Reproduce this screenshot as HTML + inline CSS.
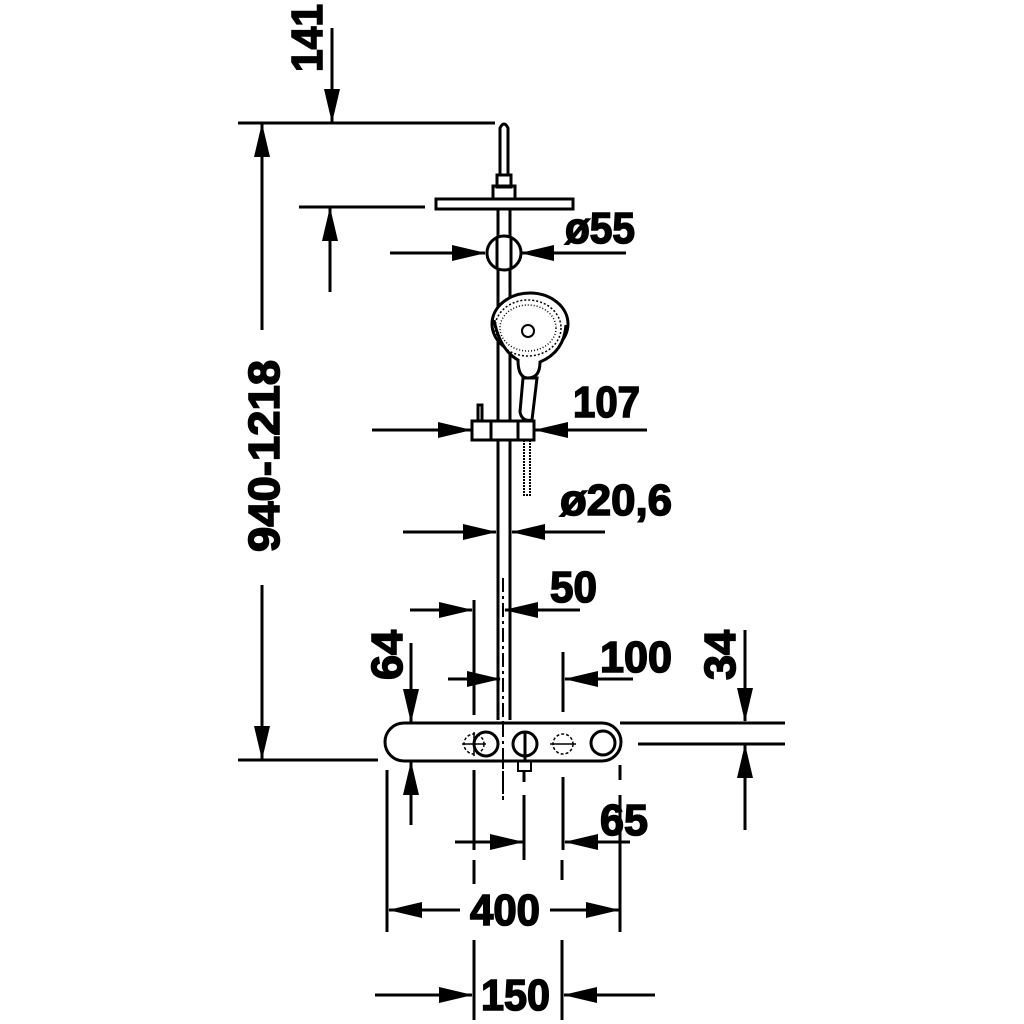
<!DOCTYPE html>
<html><head><style>
html,body{margin:0;padding:0;background:#fff;}
svg{display:block;}
text{font-family:"Liberation Sans Narrow","Liberation Sans",sans-serif;font-weight:bold;font-size:44px;fill:#000;stroke:#000;stroke-width:1.6px;}
</style></head><body>
<svg width="1024" height="1024" viewBox="0 0 1024 1024" xmlns="http://www.w3.org/2000/svg">
<defs>
<marker id="a" markerWidth="34" markerHeight="16" refX="33" refY="8" orient="auto" markerUnits="userSpaceOnUse">
<path d="M0,0 L34,8 L0,16 Z" fill="#000"/>
</marker>
</defs>
<g stroke="#000" stroke-width="3" fill="none">
<line x1="332" y1="28" x2="332" y2="122" marker-end="url(#a)"/>
<line x1="238" y1="123" x2="495" y2="123"/>
<line x1="299" y1="207" x2="425" y2="207"/>
<line x1="330" y1="292" x2="330" y2="208" marker-end="url(#a)"/>
<line x1="262" y1="330" x2="262" y2="124" marker-end="url(#a)"/>
<line x1="262" y1="585" x2="262" y2="759" marker-end="url(#a)"/>
<line x1="238" y1="760" x2="378" y2="760"/>
<line x1="390" y1="253" x2="485" y2="253" marker-end="url(#a)"/>
<line x1="626" y1="253" x2="521" y2="253" marker-end="url(#a)"/>
<line x1="372" y1="430" x2="471" y2="430" marker-end="url(#a)"/>
<line x1="647" y1="430" x2="535" y2="430" marker-end="url(#a)"/>
<line x1="403" y1="532" x2="496" y2="532" marker-end="url(#a)"/>
<line x1="605" y1="532" x2="512" y2="532" marker-end="url(#a)"/>
<line x1="410" y1="610" x2="472" y2="610" marker-end="url(#a)"/>
<line x1="580" y1="610" x2="505" y2="610" marker-end="url(#a)"/>
<line x1="474" y1="600" x2="474" y2="715"/>
<line x1="474" y1="770" x2="474" y2="850"/>
<line x1="503" y1="578" x2="503" y2="800" stroke-dasharray="14,4,3,4" stroke-width="2"/>
<line x1="448" y1="679" x2="500" y2="679" marker-end="url(#a)"/>
<line x1="633" y1="679" x2="565" y2="679" marker-end="url(#a)"/>
<line x1="563" y1="652" x2="563" y2="712"/>
<line x1="563" y1="777" x2="563" y2="850"/>
<line x1="411" y1="643" x2="411" y2="722" marker-end="url(#a)"/>
<line x1="411" y1="825" x2="411" y2="762" marker-end="url(#a)"/>
<line x1="745" y1="630" x2="745" y2="721" marker-end="url(#a)"/>
<line x1="745" y1="830" x2="745" y2="745" marker-end="url(#a)"/>
<line x1="620" y1="723" x2="785" y2="723"/>
<line x1="638" y1="744" x2="785" y2="744"/>
<line x1="455" y1="842" x2="523" y2="842" marker-end="url(#a)"/>
<line x1="630" y1="842" x2="565" y2="842" marker-end="url(#a)"/>
<line x1="524" y1="795" x2="524" y2="860"/>
<line x1="620" y1="765" x2="620" y2="780"/>
<line x1="620" y1="795" x2="620" y2="860"/>
<line x1="460" y1="910" x2="389" y2="910" marker-end="url(#a)"/>
<line x1="550" y1="910" x2="619" y2="910" marker-end="url(#a)"/>
<line x1="387" y1="770" x2="387" y2="932"/>
<line x1="620" y1="860" x2="620" y2="932"/>
<line x1="474" y1="860" x2="474" y2="884"/>
<line x1="562" y1="860" x2="562" y2="880"/>
<line x1="375" y1="995" x2="472" y2="995" marker-end="url(#a)"/>
<line x1="655" y1="995" x2="564" y2="995" marker-end="url(#a)"/>
<line x1="474" y1="940" x2="474" y2="1020"/>
<line x1="562" y1="940" x2="562" y2="1020"/>

<path d="M498,720 L498,210 M510,720 L510,210" />
<path d="M500,175 L500,128 Q504,120 508,128 L508,175"/>
<rect x="497" y="175" width="14" height="12"/>
<rect x="493" y="186" width="22" height="13"/>
<rect x="436" y="199" width="137" height="10"/>
<circle cx="504" cy="253" r="17" fill="#fff"/>
<path d="M497,238 L497,268 M511,238 L511,268"/>
<path d="M523,378 L520,412 Q522,422 532,420 L537,378 Z" fill="#fff"/>
<ellipse cx="530" cy="324" rx="38" ry="31" fill="#fff"/>
<path d="M494,320 Q500,350 518,360 Q518,378 528,378 Q540,378 540,362 Q564,352 566,325" fill="#fff"/>
<ellipse cx="528" cy="328" rx="33" ry="28" stroke-width="1.5" stroke-dasharray="2,2"/>
<ellipse cx="528" cy="328" rx="28" ry="23" stroke-width="1.5" stroke-dasharray="1,2"/>
<circle cx="528" cy="331" r="6" stroke-width="2"/>
<rect x="472" y="421" width="62" height="19" fill="#fff"/>
<line x1="491" y1="421" x2="491" y2="440"/>
<line x1="518" y1="421" x2="518" y2="440"/>
<rect x="478" y="405" width="4" height="16"/>
<rect x="524" y="440" width="6" height="55" stroke-width="2" stroke-dasharray="2,1"/>
<rect x="385" y="723" width="236" height="38" rx="19" fill="#fff"/>
<line x1="503" y1="723" x2="503" y2="800" stroke-dasharray="14,4,3,4" stroke-width="2"/>
<circle cx="486" cy="744" r="12"/>
<circle cx="474" cy="744" r="10" stroke-width="1.5" stroke-dasharray="3,2"/>
<line x1="462" y1="744" x2="486" y2="744" stroke-width="1.5"/>
<line x1="474" y1="732" x2="474" y2="756" stroke-width="1.5"/>
<circle cx="525" cy="744" r="12"/>
<line x1="525" y1="732" x2="525" y2="760"/>
<circle cx="563" cy="744" r="10" stroke-width="1.5" stroke-dasharray="3,2"/>
<line x1="550" y1="744" x2="576" y2="744" stroke-width="1.5"/>
<rect x="518" y="761" width="13" height="10" stroke-width="2"/>
<line x1="524" y1="771" x2="524" y2="782"/>
<circle cx="603" cy="743" r="12"/>
</g>
<text x="565" y="243" textLength="70" lengthAdjust="spacingAndGlyphs">ø55</text>
<text x="573" y="417" textLength="67" lengthAdjust="spacingAndGlyphs">107</text>
<text x="560" y="515" textLength="112" lengthAdjust="spacingAndGlyphs">ø20,6</text>
<text x="550" y="602" textLength="47" lengthAdjust="spacingAndGlyphs">50</text>
<text x="600" y="672" textLength="72" lengthAdjust="spacingAndGlyphs">100</text>
<text x="600" y="835" textLength="48" lengthAdjust="spacingAndGlyphs">65</text>
<text x="470" y="925" textLength="70" lengthAdjust="spacingAndGlyphs">400</text>
<text x="481" y="1010" textLength="69" lengthAdjust="spacingAndGlyphs">150</text>
<text transform="translate(322,72) rotate(-90)" textLength="68" lengthAdjust="spacingAndGlyphs">141</text>
<text transform="translate(402,680) rotate(-90)" textLength="50" lengthAdjust="spacingAndGlyphs">64</text>
<text transform="translate(735,680) rotate(-90)" textLength="50" lengthAdjust="spacingAndGlyphs">34</text>
<text transform="translate(279,552) rotate(-90)" textLength="192" lengthAdjust="spacingAndGlyphs">940-1218</text>
</svg>
</body></html>
